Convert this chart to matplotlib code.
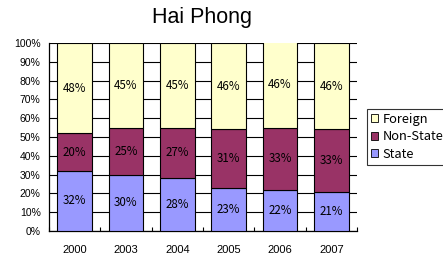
import numpy as np
import matplotlib
matplotlib.use("Agg")
import matplotlib.pyplot as plt
from matplotlib.patches import Patch

years = ["2000", "2003", "2004", "2005", "2006", "2007"]
state = [32, 30, 28, 23, 22, 21]
non_state = [20, 25, 27, 31, 33, 33]
foreign = [48, 45, 45, 46, 46, 46]

C_STATE = "#9999FF"
C_NONSTATE = "#993366"
C_FOREIGN = "#FFFFCC"
JP = ["Noto Sans CJK JP", "DejaVu Sans"]

fig = plt.figure(figsize=(4.43, 2.61), dpi=100)
ax = fig.add_axes([49 / 443, 30 / 261, 308 / 443, 188 / 261])

x = np.arange(len(years))
w = 0.68
bottom = np.zeros(len(years))
for vals, col in [(state, C_STATE), (non_state, C_NONSTATE), (foreign, C_FOREIGN)]:
    v = np.array(vals, dtype=float)
    ax.bar(x, v, w, bottom=bottom, color=col, edgecolor="black", lw=0.8, zorder=3)
    for xi, b, vi in zip(x, bottom, v):
        ax.text(xi, b + vi / 2, f"{int(vi)}%", ha="center", va="center",
                fontsize=8.3, family=JP, color="black", zorder=4)
    bottom += v

ax.set_xlim(-0.5, len(years) - 0.5)
ax.set_ylim(0, 100)
ax.set_yticks(np.arange(0, 101, 10))
ax.set_yticklabels([f"{t}%" for t in range(0, 101, 10)], family="Liberation Sans", fontsize=7.5)
ax.set_xticks(x)
ax.set_xticklabels(years, family="Liberation Sans", fontsize=8)
ax.set_xticks(np.arange(-0.5, len(years), 1), minor=True)
ax.tick_params(axis="y", length=0, pad=6)
ax.tick_params(axis="x", which="major", length=0, pad=10)
ax.tick_params(axis="x", which="minor", length=3, direction="in", width=0.8)
ax.yaxis.grid(True, color="black", lw=0.8, zorder=0)
ax.set_axisbelow(True)
for sp in ("top", "right"):
    ax.spines[sp].set_visible(False)
for sp in ("left", "bottom"):
    ax.spines[sp].set_linewidth(0.9)

fig.text(202 / 443, 1 - 17 / 261, "Hai Phong", ha="center", va="center",
         family="Liberation Sans", fontsize=15.5)

handles = [Patch(facecolor=C_FOREIGN, edgecolor="black", lw=0.6, label="Foreign"),
           Patch(facecolor=C_NONSTATE, edgecolor="black", lw=0.6, label="Non-State"),
           Patch(facecolor=C_STATE, edgecolor="black", lw=0.6, label="State")]
leg = fig.legend(handles=handles, loc="upper left", bbox_to_anchor=(367 / 443, 1 - 109 / 261),
                 frameon=True, fancybox=False, prop={"family": JP, "size": 9.3},
                 handlelength=0.55, handleheight=0.55, handletextpad=0.35,
                 borderpad=0.3, labelspacing=0.35, borderaxespad=0)
leg.get_frame().set_edgecolor("black")
leg.get_frame().set_linewidth(0.8)

fig.savefig("out.png", dpi=100)
